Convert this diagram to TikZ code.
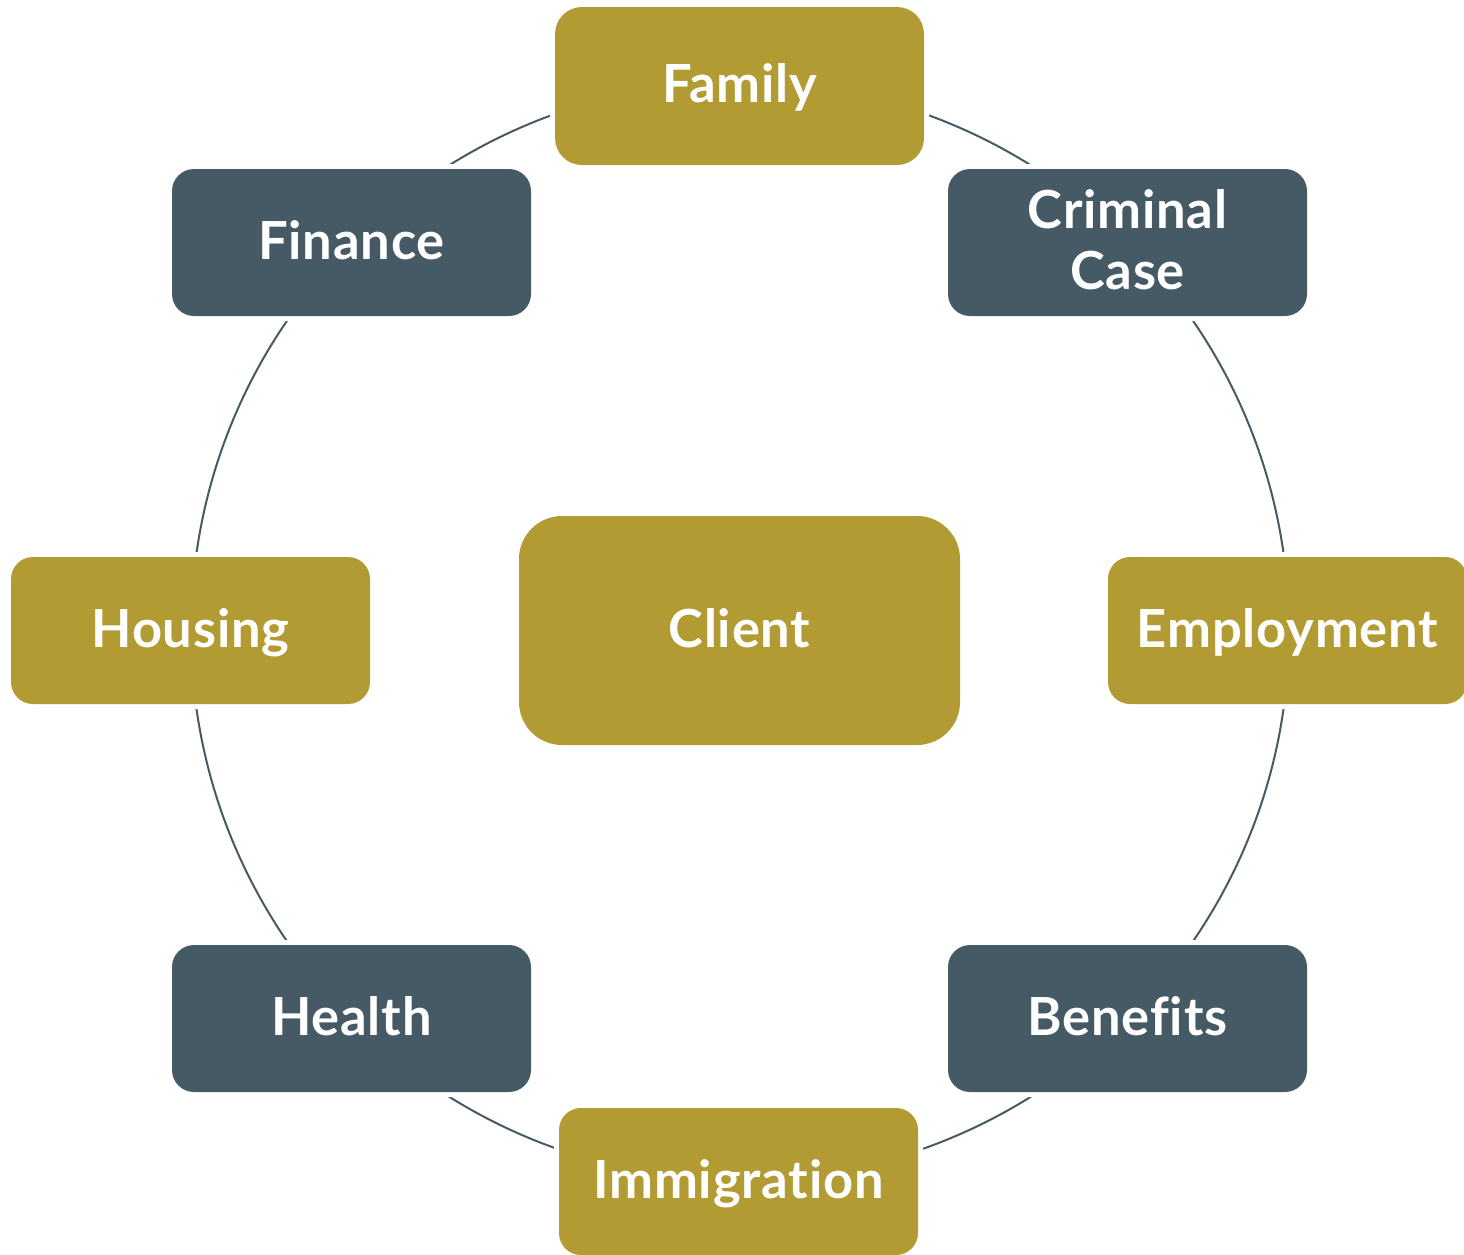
\documentclass[tikz,border=0pt]{standalone}
\usepackage{fontspec}
\setmainfont{Lato}[RawFeature={-liga,-dlig}, LetterSpace=1.5]
\definecolor{goldc}{HTML}{B29B33}
\definecolor{slatec}{HTML}{465A66}
\begin{document}
\begin{tikzpicture}[x=1pt,y=-1pt,
  box/.style={rounded corners=22pt, minimum width=359pt, minimum height=147pt,
    inner sep=0pt, text=white, font=\fontsize{52.5}{61}\selectfont\bfseries,
    text height=37pt, text depth=4pt, align=center,
    preaction={draw=white, line width=10pt}},
  goldbox/.style={box, fill=goldc},
  slatebox/.style={box, fill=slatec},
  ring/.style={draw=slatec, line width=2pt}]
\useasboundingbox (0,0) rectangle (1464,1254);
\coordinate (hub) at (740,631);
\draw[ring] (hub) circle[radius=549pt];
\node[goldbox, minimum width=369pt, minimum height=158pt, rounded corners=27pt] (family) at (739.5,86) {Family};
\node[slatebox] (finance) at (351.5,242.5) {Finance};
\node[slatebox, text height=97pt, text depth=4pt] (criminal) at (1127.5,242.5) {Criminal\\Case};
\node[goldbox] (housing) at (190.5,630.5) {Housing};
\node[goldbox, minimum width=441pt, minimum height=229pt, rounded corners=43pt] (client) at (739.5,630.5) {Client};
\node[goldbox] (employment) at (1287.5,630.5) {Employment};
\node[slatebox] (health) at (351.5,1018.5) {Health};
\node[slatebox] (benefits) at (1127.5,1018.5) {Benefits};
\node[goldbox] (immigration) at (738.5,1181.5) {Immigration};
\end{tikzpicture}
\end{document}
